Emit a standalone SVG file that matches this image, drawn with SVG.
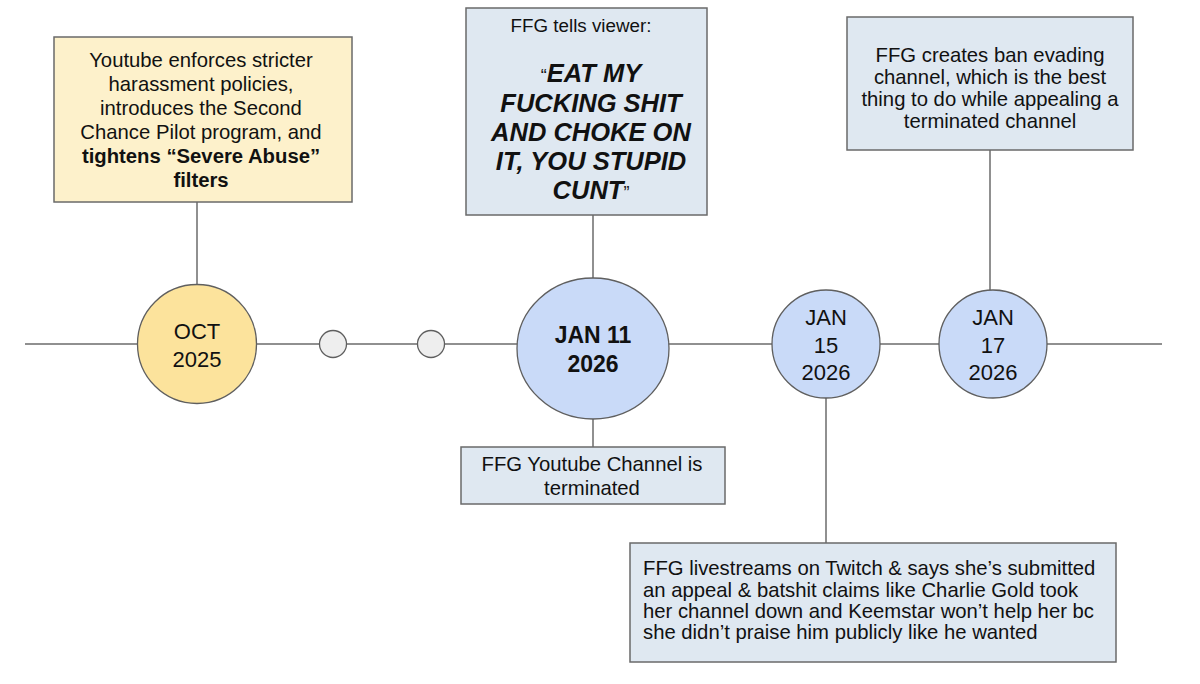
<svg xmlns="http://www.w3.org/2000/svg" width="1200" height="684" viewBox="0 0 1200 684">
<style>
text{font-family:"Liberation Sans",Arial,sans-serif;fill:#111;}
.c{text-anchor:middle;}
.t{font-size:20.3px;}
.d{font-size:22px;}
.b{font-weight:bold;}
.bi{font-weight:bold;font-style:italic;font-size:25.5px;}
.q{font-style:normal;font-weight:normal;font-size:18px;}
.ln{stroke:#6b6b6b;stroke-width:1.5;fill:none;}
.boxY{fill:#fdf1cb;stroke:#6a6a6a;stroke-width:1.5;}
.boxB{fill:#dfe8f1;stroke:#6a6a6a;stroke-width:1.5;}
.cirY{fill:#fce39c;stroke:#5f5f5f;stroke-width:1.3;}
.cirB{fill:#c9daf8;stroke:#5f5f5f;stroke-width:1.3;}
.cirG{fill:#eeeeee;stroke:#5f5f5f;stroke-width:1.3;}
</style>
<rect width="1200" height="684" fill="#ffffff"/>
<g id="connectors">
<line class="ln" x1="25" y1="344" x2="1162" y2="344"/>
<line class="ln" x1="197" y1="202" x2="197" y2="285"/>
<line class="ln" x1="593" y1="215" x2="593" y2="278"/>
<line class="ln" x1="593" y1="419" x2="593" y2="447"/>
<line class="ln" x1="990" y1="150" x2="990" y2="290"/>
<line class="ln" x1="826" y1="398" x2="826" y2="543"/>
</g>
<g id="box-oct">
<rect class="boxY" x="54" y="37" width="298" height="165"/>
<text class="t c" x="201" y="67">Youtube enforces stricter</text>
<text class="t c" x="201" y="91">harassment policies,</text>
<text class="t c" x="201" y="115">introduces the Second</text>
<text class="t c" x="201" y="139">Chance Pilot program, and</text>
<text class="t c b" x="201" y="163">tightens “Severe Abuse”</text>
<text class="t c b" x="201" y="187">filters</text>
</g>
<g id="box-jan11-top">
<rect class="boxB" x="466" y="8" width="241" height="207"/>
<text class="c" x="581" y="32" font-size="18.8">FFG tells viewer:</text>
<text class="c bi" x="591" y="82"><tspan class="q">“</tspan>EAT MY</text>
<text class="c bi" x="591" y="112">FUCKING SHIT</text>
<text class="c bi" x="591" y="141">AND CHOKE ON</text>
<text class="c bi" x="591" y="170">IT, YOU STUPID</text>
<text class="c bi" x="591" y="199">CUNT<tspan class="q">”</tspan></text>
</g>
<g id="box-jan17">
<rect class="boxB" x="847" y="17" width="286" height="133"/>
<text class="t c" x="990" y="62">FFG creates ban evading</text>
<text class="t c" x="990" y="84">channel, which is the best</text>
<text class="t c" x="990" y="106">thing to do while appealing a</text>
<text class="t c" x="990" y="128">terminated channel</text>
</g>
<g id="box-jan11-bottom">
<rect class="boxB" x="461" y="447" width="264" height="57"/>
<text class="t c" x="592" y="471">FFG Youtube Channel is</text>
<text class="t c" x="592" y="495">terminated</text>
</g>
<g id="box-jan15">
<rect class="boxB" x="630" y="543" width="486" height="119"/>
<text class="t" x="643" y="575">FFG livestreams on Twitch &amp; says she’s submitted</text>
<text class="t" x="643" y="597">an appeal &amp; batshit claims like Charlie Gold took</text>
<text class="t" x="643" y="618">her channel down and Keemstar won’t help her bc</text>
<text class="t" x="643" y="639">she didn’t praise him publicly like he wanted</text>
</g>
<g id="node-oct2025">
<circle class="cirY" cx="197" cy="344" r="59.5"/>
<text class="d c" x="197" y="339">OCT</text>
<text class="d c" x="197" y="367">2025</text>
</g>
<g id="node-dot1">
<circle class="cirG" cx="333" cy="344" r="13.5"/>
</g>
<g id="node-dot2">
<circle class="cirG" cx="431" cy="344" r="13.5"/>
</g>
<g id="node-jan11">
<ellipse class="cirB" cx="593" cy="348.5" rx="76" ry="70.5"/>
<text class="c b" x="593" y="343" font-size="23">JAN 11</text>
<text class="c b" x="593" y="372" font-size="23">2026</text>
</g>
<g id="node-jan15">
<circle class="cirB" cx="826" cy="344" r="54"/>
<text class="d c" x="826" y="325">JAN</text>
<text class="d c" x="826" y="353">15</text>
<text class="d c" x="826" y="380">2026</text>
</g>
<g id="node-jan17">
<circle class="cirB" cx="993" cy="344" r="54"/>
<text class="d c" x="993" y="325">JAN</text>
<text class="d c" x="993" y="353">17</text>
<text class="d c" x="993" y="380">2026</text>
</g>
</svg>
